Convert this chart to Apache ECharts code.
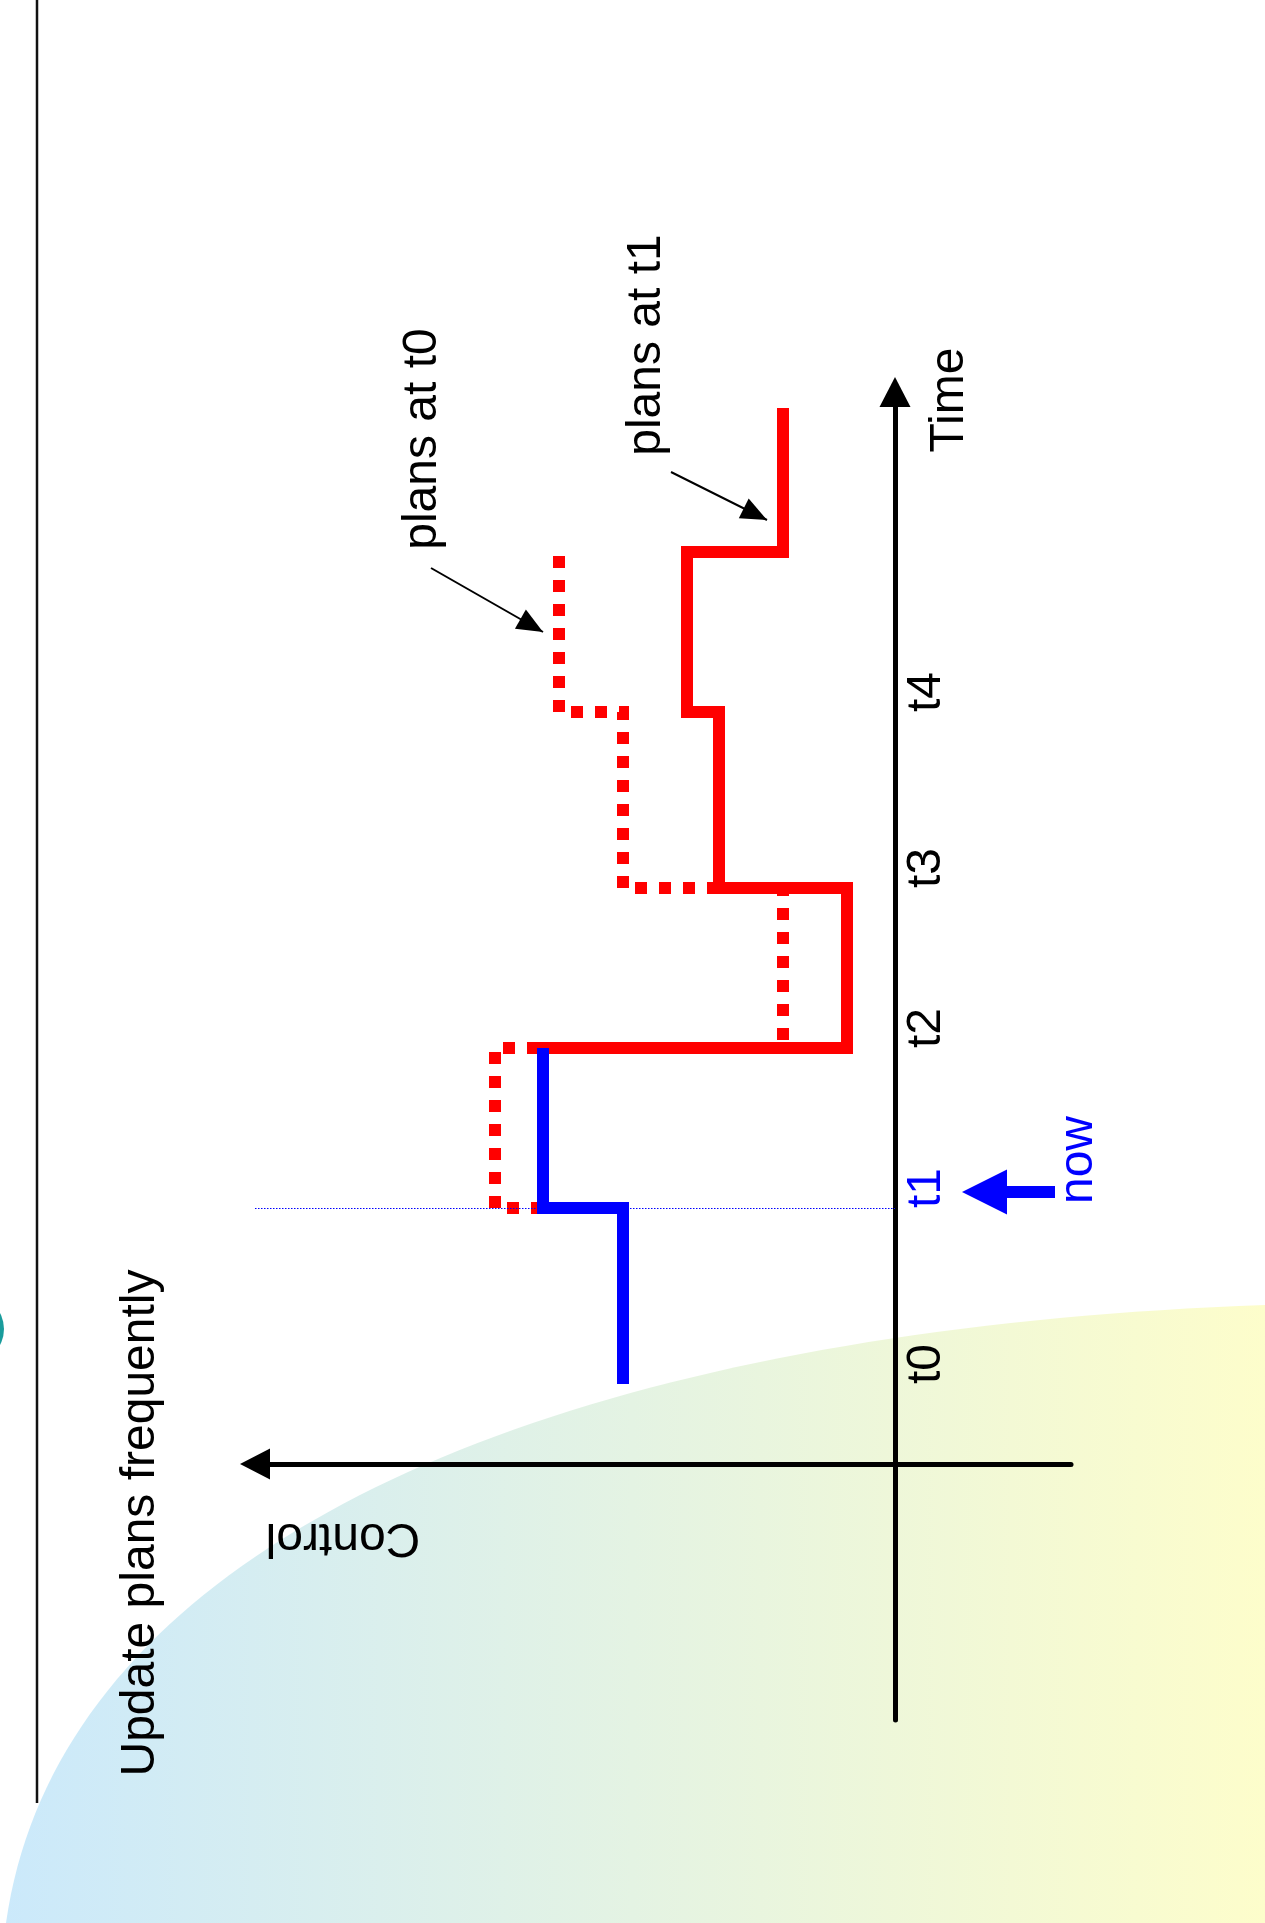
<!DOCTYPE html>
<html>
<head>
<meta charset="utf-8">
<title>Update plans frequently</title>
<script src="https://cdn.jsdelivr.net/npm/echarts@6/dist/echarts.min.js"></script>
<style>
  html, body { margin: 0; padding: 0; background: #ffffff; }
  #chart { width: 1265px; height: 1923px; }
</style>
</head>
<body>
<div id="chart"></div>
<script>
// ---- data (time runs up the page, control grows to the left) ----
// instants at which the control value changes
const stepTimes = [0.5, 1.6, 2.6, 3.6, 4.7, 5.7, 6.6];
// labelled instants on the time axis
const tickNames = ['t0', 't1', 't2', 't3', 't4'];
const tickTimes = [0.5, 1.6, 2.6, 3.6, 4.7];
// control actually applied, t0..t2
const appliedControl = [1.7, 2.2];
// plan computed at t0, covering t0..t5
const planAtT0 = [1.7, 2.5, 0.7, 1.7, 2.1];
// plan computed at t1, covering t1..t6
const planAtT1 = [2.2, 0.3, 1.1, 1.3, 0.7];
// current instant and the extent of its guide line
const nowTime = 1.6;
const nowGuideControl = 4.0;
// callout arrows: [control, time] of tail and head
const calloutT0 = [[2.9, 5.6], [2.2, 5.2]];
const calloutT1 = [[1.4, 6.2], [0.8, 5.9]];
// "now" pointer: [control, time] of tail and of the head base
const nowPointer = [[-1.0, 1.7], [-0.7, 1.7]];
// axis ranges
const controlRange = [-1.1, 4.0];
const timeRange = [-1.6, 6.7];

const FONT = '"Liberation Sans", Arial, Helvetica, sans-serif';
const RED = '#ff0000';
const BLUE = '#0000ff';

// plot box
const GRID = { left: 255, right: 194, top: 392, bottom: 203 };
const CHART_W = 1265;
// the time axis sits where control = 0
const pxPerControl = (CHART_W - GRID.left - GRID.right) / (controlRange[1] - controlRange[0]);
const timeAxisOffset = -controlRange[1] * pxPerControl;

// piecewise-constant profile: one vertical run per interval
function stepProfile(values, firstStep) {
  const pts = [];
  values.forEach(function (v, i) {
    pts.push([v, stepTimes[firstStep + i]]);
    pts.push([v, stepTimes[firstStep + i + 1]]);
  });
  return pts;
}

// decorative backdrop: a sweeping curve filled with a blue-to-yellow wash
function backdropPoints() {
  const p0 = [6, 1923], p1 = [60, 1540], p2 = [560, 1330], p3 = [1265, 1305];
  const pts = [];
  for (let i = 0; i <= 80; i++) {
    const t = i / 80, u = 1 - t;
    const a = u * u * u, b = 3 * u * u * t, c = 3 * u * t * t, d = t * t * t;
    pts.push([a * p0[0] + b * p1[0] + c * p2[0] + d * p3[0],
              a * p0[1] + b * p1[1] + c * p2[1] + d * p3[1]]);
  }
  pts.push([1265, 1923]);
  return pts;
}

function rotatedText(text, x, y, rotation, color) {
  return {
    type: 'text',
    x: x, y: y, rotation: rotation,
    z: 50,
    style: {
      text: text,
      fill: color || '#000000',
      font: '48px ' + FONT,
      align: 'center', verticalAlign: 'middle',
      textAlign: 'center', textVerticalAlign: 'middle'
    }
  };
}

function arrowLine(tail, head, color, width, size, baseAtEnd) {
  return [
    { coord: tail, symbol: 'none' },
    {
      coord: head, symbol: 'triangle', symbolSize: size,
      symbolOffset: [0, baseAtEnd ? -size[1] / 2 : size[1] / 2],
      lineStyle: { color: color, width: width, type: 'solid' },
      itemStyle: { color: color }
    }
  ];
}

const guideStyle = { color: BLUE, width: 1, type: [1.5, 1.5] };

const chart = echarts.init(document.getElementById('chart'), null, { renderer: 'canvas' });

const option = {
  animation: false,
  backgroundColor: '#ffffff',
  grid: {
    left: GRID.left, right: GRID.right, top: GRID.top, bottom: GRID.bottom,
    containLabel: false,
    outerBoundsMode: 'none'
  },
  xAxis: {
    type: 'value',
    inverse: true,
    min: controlRange[0], max: controlRange[1],
    axisLine: {
      show: true, onZero: true,
      symbol: ['triangle', 'none'], symbolSize: [31, 30],
      lineStyle: { color: '#000000', width: 5 }
    },
    axisTick: { show: false },
    axisLabel: { show: false },
    splitLine: { show: false }
  },
  yAxis: {
    type: 'value',
    position: 'left',
    offset: timeAxisOffset,
    min: timeRange[0], max: timeRange[1],
    axisLine: {
      show: true, onZero: false,
      symbol: ['none', 'triangle'], symbolSize: [31, 30],
      lineStyle: { color: '#000000', width: 5 }
    },
    axisTick: { show: false },
    splitLine: { show: false },
    axisLabel: {
      show: true,
      customValues: tickTimes,
      inside: true,
      rotate: 90,
      margin: 8,
      align: 'left',
      verticalAlign: 'top',
      fontSize: 48,
      fontFamily: FONT,
      color: function (value) {
        return Math.abs(parseFloat(value) - nowTime) < 1e-6 ? BLUE : '#000000';
      },
      formatter: function (value) {
        const i = tickTimes.findIndex(function (t) { return Math.abs(t - value) < 1e-6; });
        return i >= 0 ? tickNames[i] : '';
      }
    }
  },
  series: [
    {
      name: 'plan at t0',
      type: 'line',
      data: stepProfile(planAtT0, 0),
      showSymbol: false,
      symbol: 'none',
      z: 3,
      lineStyle: { color: RED, width: 12, type: [12, 12], dashOffset: 8, cap: 'butt', join: 'miter' },
      markLine: {
        silent: true,
        symbol: ['none', 'triangle'],
        label: { show: false },
        lineStyle: { color: '#000000', width: 2, type: 'solid' },
        data: [arrowLine(calloutT0[0], calloutT0[1], '#000000', 2, [22, 26], false)]
      }
    },
    {
      name: 'plan at t1',
      type: 'line',
      data: stepProfile(planAtT1, 1),
      showSymbol: false,
      symbol: 'none',
      z: 4,
      lineStyle: { color: RED, width: 12, type: 'solid', cap: 'butt', join: 'miter' },
      markLine: {
        silent: true,
        symbol: ['none', 'triangle'],
        label: { show: false },
        lineStyle: { color: '#000000', width: 2, type: 'solid' },
        data: [arrowLine(calloutT1[0], calloutT1[1], '#000000', 2, [22, 26], false)]
      }
    },
    {
      name: 'applied control',
      type: 'line',
      data: stepProfile(appliedControl, 0),
      showSymbol: false,
      symbol: 'none',
      z: 5,
      lineStyle: { color: BLUE, width: 12, type: 'solid', cap: 'butt', join: 'miter' },
      markLine: {
        silent: true,
        symbol: ['none', 'none'],
        label: { show: false },
        data: [
          [
            { coord: [nowGuideControl, nowTime], symbol: 'none', lineStyle: guideStyle },
            { coord: [0, nowTime], symbol: 'none', lineStyle: guideStyle }
          ],
          arrowLine(nowPointer[0], nowPointer[1], BLUE, 12, [45, 45], true)
        ]
      }
    }
  ],
  graphic: {
    elements: [
      {
        type: 'polygon',
        z: -100,
        silent: true,
        shape: { points: backdropPoints() },
        style: {
          fill: {
            type: 'linear', x: 0, y: 0, x2: 1265, y2: 0, global: true,
            colorStops: [
              { offset: 0, color: '#cbe9fb' },
              { offset: 1, color: '#fdfdcb' }
            ]
          }
        }
      },
      {
        type: 'line',
        z: 10,
        silent: true,
        shape: { x1: 37, y1: 0, x2: 37, y2: 1803 },
        style: { stroke: '#111111', lineWidth: 2.5 }
      },
      {
        type: 'circle',
        z: 10,
        silent: true,
        shape: { cx: -30, cy: 1329, r: 34 },
        style: { fill: '#1a9c9c' }
      },
      rotatedText('Update plans frequently', 141, 1523, Math.PI / 2),
      rotatedText('plans at t0', 423, 439, Math.PI / 2),
      rotatedText('plans at t1', 647, 345, Math.PI / 2),
      rotatedText('Time', 950, 400, Math.PI / 2),
      rotatedText('now', 1079, 1160, Math.PI / 2, BLUE),
      rotatedText('Control', 343, 1537, Math.PI)
    ]
  }
};

chart.setOption(option);
</script>
</body>
</html>
